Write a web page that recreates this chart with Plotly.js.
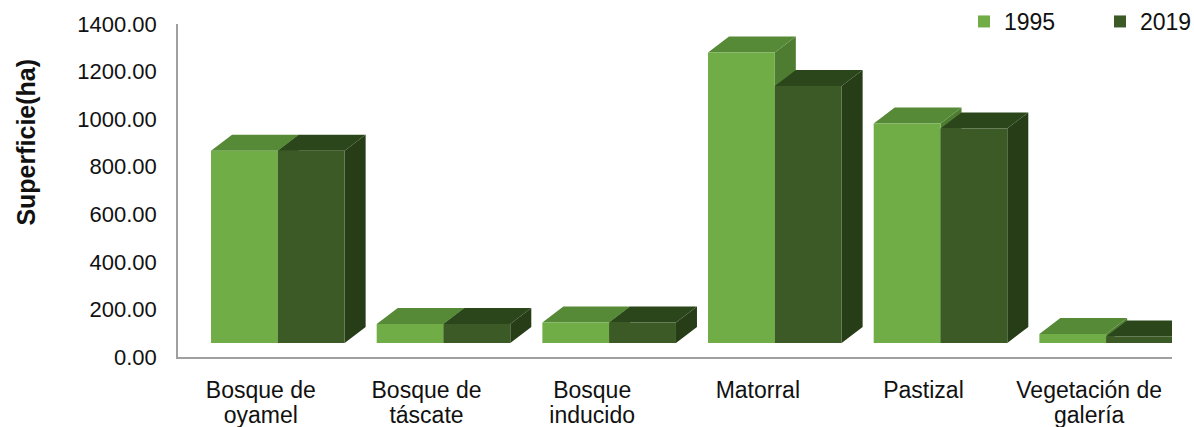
<!DOCTYPE html>
<html>
<head>
<meta charset="utf-8">
<script src="https://cdn.plot.ly/plotly-3.0.1.min.js"></script>
<style>html,body{margin:0;padding:0;background:#fff;}#chart{width:1194px;height:427px;}</style>
</head>
<body>
<div id="chart"></div>
<script>
// ---- data ----
const categories = ['Bosque de oyamel', 'Bosque de táscate', 'Bosque inducido', 'Matorral', 'Pastizal', 'Vegetación de galería'];
const labelLine1 = ['Bosque de', 'Bosque de', 'Bosque', 'Matorral', 'Pastizal', 'Vegetación de'];
const labelLine2 = ['oyamel', 'táscate', 'inducido', '', '', 'galería'];
const years = ['1995', '2019'];
const sup1995 = [808, 80, 86, 1221, 923, 38];
const sup2019 = [808, 80, 86, 1081, 902, 27];
const yTicks = [0, 200, 400, 600, 800, 1000, 1200, 1400];

// ---- styling / projection geometry ----
const FONT = 'Liberation Sans, Arial, sans-serif';
const colors = {
  '1995': {front: '#70ad47', top: '#568a37', side: '#4e7d31'},
  '2019': {front: '#3b5a26', top: '#2b461b', side: '#263d17'}
};
const plotW = 994, nCat = categories.length;
const pxX = plotW / nCat;          // px per category unit
const pxY = 333 / 1400;            // px per ha
const DX = 21 / pxX;               // depth offset (x units)
const DY = 16 / pxY;               // depth offset (y units)
const BW = 66.8 / pxX;             // bar width
const offsets = [-49.8 / pxX, -49.8 / pxX + BW];
const idx = categories.map((c, i) => i);

function faces(vals, off) {
  const tx = [], ty = [], sx = [], sy = [];
  vals.forEach((v, i) => {
    const xl = i + off, xr = i + off + BW;
    tx.push(xl, xr, xr + DX, xl + DX, xl, null);
    ty.push(v, v, v + DY, v + DY, v, null);
    sx.push(xr, xr + DX, xr + DX, xr, xr, null);
    sy.push(0, DY, v + DY, v, 0, null);
  });
  return {tx, ty, sx, sy};
}

const traces = [];
[sup1995, sup2019].forEach((vals, k) => {
  const f = faces(vals, offsets[k]);
  const c = colors[years[k]];
  traces.push({type: 'scatter', mode: 'none', x: f.sx, y: f.sy, xaxis: 'x', yaxis: 'y2',
    fill: 'toself', fillcolor: c.side, showlegend: false, hoverinfo: 'skip'});
  traces.push({type: 'scatter', mode: 'none', x: f.tx, y: f.ty, xaxis: 'x', yaxis: 'y2',
    fill: 'toself', fillcolor: c.top, showlegend: false, hoverinfo: 'skip'});
});
[sup1995, sup2019].forEach((vals, k) => {
  traces.push({type: 'bar', name: years[k], x: idx, y: vals, xaxis: 'x2', yaxis: 'y2',
    offset: offsets[k], width: BW, marker: {color: colors[years[k]].front, line: {width: 0}},
    customdata: categories, textposition: 'none',
    hovertemplate: '%{customdata}: %{y:.2f} ha<extra>' + years[k] + '</extra>'});
});
// anchor trace for primary axes (invisible)
traces.push({type: 'scatter', mode: 'none', x: [null], y: [null], xaxis: 'x', yaxis: 'y', showlegend: false, hoverinfo: 'skip'});

const layout = {
  width: 1194, height: 427,
  margin: {l: 178, r: 22, t: 10, b: 70, autoexpand: false},
  paper_bgcolor: '#ffffff', plot_bgcolor: '#ffffff',
  font: {family: FONT, color: '#111111'},
  barmode: 'overlay',
  showlegend: true,
  legend: {orientation: 'h', xref: 'container', yref: 'container', x: 964 / 1194, xanchor: 'left',
    y: 1, yanchor: 'top', font: {size: 23, family: FONT, color: '#111111'},
    entrywidth: 91, entrywidthmode: 'pixels', itemclick: false, bgcolor: 'rgba(0,0,0,0)'},
  xaxis: {range: [-0.5, nCat - 0.5], domain: [0, 1], anchor: 'y', tickmode: 'array', tickvals: idx, ticktext: labelLine1,
    showgrid: false, zeroline: false, showline: true, linecolor: '#a0a0a0', linewidth: 1.5, ticks: '',
    ticklabelstandoff: 12, tickfont: {size: 23, family: FONT, color: '#111111'}, fixedrange: true, automargin: false},
  xaxis2: {range: [-0.5, nCat - 0.5], overlaying: 'x', anchor: 'free', position: 0, side: 'bottom',
    tickmode: 'array', tickvals: idx, ticktext: labelLine2, showgrid: false, zeroline: false, showline: false, ticks: '',
    ticklabelstandoff: 42, tickfont: {size: 23, family: FONT, color: '#111111'}, fixedrange: true, automargin: false},
  yaxis: {range: [0, 1400], domain: [0, 333 / 347], anchor: 'x', tickmode: 'array', tickvals: yTicks, tickformat: '.2f',
    showgrid: false, zeroline: false, showline: true, linecolor: '#a0a0a0', linewidth: 1.5, ticks: '',
    ticklabelstandoff: 15, tickfont: {size: 22, family: FONT, color: '#111111'}, fixedrange: true, automargin: false},
  yaxis2: {range: [0, 1400], domain: [14 / 347, 1], anchor: 'x', visible: false, fixedrange: true},
  annotations: [{text: '<b>Superficie(ha)</b>', textangle: -90, xref: 'paper', yref: 'paper',
    x: (26 - 178) / 994, y: (357 - 142.6) / 347, xanchor: 'center', yanchor: 'middle', showarrow: false,
    font: {size: 25, family: FONT, color: '#111111'}}]
};

Plotly.newPlot('chart', traces, layout, {displayModeBar: false, staticPlot: false});
</script>
</body>
</html>
